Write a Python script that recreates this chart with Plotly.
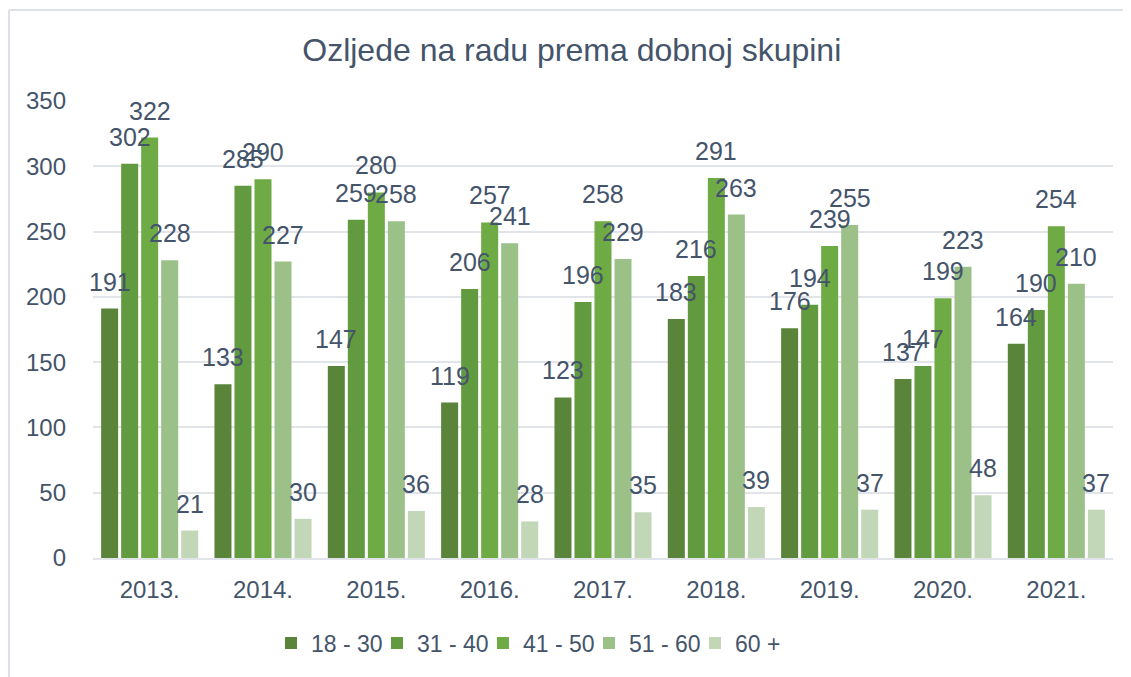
import plotly.graph_objects as go

years = ["2013.", "2014.", "2015.", "2016.", "2017.", "2018.", "2019.", "2020.", "2021."]
g18_30 = [191, 133, 147, 119, 123, 183, 176, 137, 164]
g31_40 = [302, 285, 259, 206, 196, 216, 194, 147, 190]
g41_50 = [322, 290, 280, 257, 258, 291, 239, 199, 254]
g51_60 = [228, 227, 258, 241, 229, 263, 255, 223, 210]
g60p = [21, 30, 36, 28, 35, 39, 37, 48, 37]

names = ["18 - 30", "31 - 40", "41 - 50", "51 - 60", "60 +"]
series = [g18_30, g31_40, g41_50, g51_60, g60p]
colors = ["#5a843a", "#629a3f", "#6eab45", "#9bc189", "#c2d6b8"]

TXT = "#44546a"
FONT = "Liberation Sans, Arial"
SLOT_PX = 20  # pixel width of one bar slot inside a group

fig = go.Figure()
for n, s, c in zip(names, series, colors):
    fig.add_trace(go.Bar(
        x=years, y=s, name=n, marker=dict(color=c, line=dict(width=0)),
    ))

# data labels: placed at each category's index on the category axis
annotations = []
for i, s in enumerate(series):
    for j, v in enumerate(s):
        annotations.append(dict(
            x=j, y=v, xref="x", yref="y", text=str(v), showarrow=False,
            xanchor="center", yanchor="bottom", xshift=(i - 2) * SLOT_PX, yshift=11,
            font=dict(family=FONT, size=25, color=TXT),
        ))

fig.update_layout(
    width=1123, height=669,
    paper_bgcolor="white", plot_bgcolor="white",
    title=dict(text="Ozljede na radu prema dobnoj skupini", x=0.502, xanchor="center",
               y=0.937, yanchor="middle",
               font=dict(family=FONT, size=32, color=TXT)),
    margin=dict(l=85, r=18, t=93, b=119),
    barmode="group", bargap=0.117, bargroupgap=0.15,
    font=dict(family=FONT, color=TXT),
    yaxis=dict(range=[0, 350], dtick=50, showgrid=True, gridcolor="#e1e4e9", gridwidth=1.5,
               zeroline=False, showline=False, ticks="",
               tickfont=dict(size=24, color=TXT), ticklabelstandoff=26),
    xaxis=dict(type="category", range=[-0.5, len(years) - 0.5],
               showline=True, linecolor="#e1e4e9", linewidth=1.5, ticks="",
               tickfont=dict(size=24, color=TXT), ticklabelstandoff=9),
    legend=dict(orientation="h", x=0.1745, xanchor="left", y=-0.186, yanchor="middle",
                font=dict(size=23, color=TXT), itemwidth=30,
                entrywidth=61, entrywidthmode="pixels",
                traceorder="normal"),
    annotations=annotations,
    shapes=[
        dict(type="line", xref="paper", yref="paper", x0=-0.0824, x1=1.1, y0=1.199, y1=1.199,
             line=dict(color="#dde1e7", width=2)),
        dict(type="line", xref="paper", yref="paper", x0=-0.0824, x1=-0.0824, y0=1.199, y1=-0.3,
             line=dict(color="#dde1e7", width=2)),
    ],
)

fig.write_html("out.html")
